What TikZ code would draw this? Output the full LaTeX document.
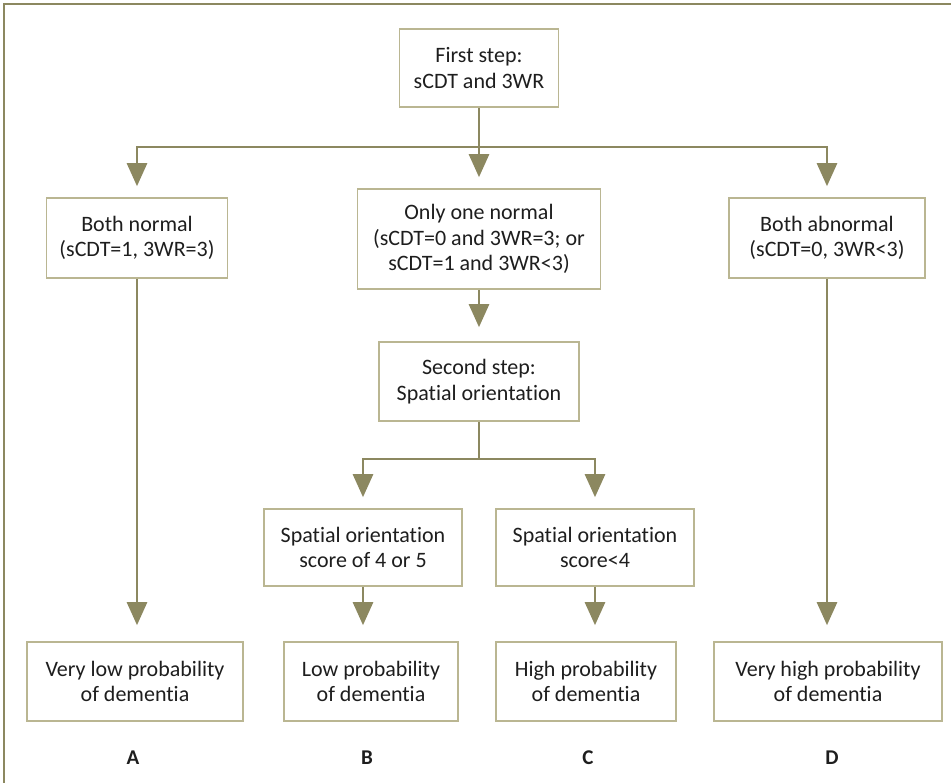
\documentclass[tikz,border=0pt]{standalone}
\usepackage{fontspec}
\setmainfont{Carlito}[Ligatures=NoCommon]
\usetikzlibrary{arrows.meta, positioning}
\definecolor{olivegray}{RGB}{140,136,96}
\definecolor{boxline}{RGB}{186,182,146}
\definecolor{textgray}{RGB}{30,30,30}

\begin{document}
\begin{tikzpicture}[x=1pt, y=-1pt,
  box/.style={draw=boxline, line width=1.6pt, fill=white, align=center, inner sep=0pt, text=textgray, font=\fontsize{22}{25.5}\selectfont},
  conn/.style={draw=olivegray, line width=2.7pt},
  arr/.style={conn, -{Triangle[length=23pt, width=20pt]}, shorten >=11pt},
  tag/.style={text=textgray, font=\fontsize{21}{24}\selectfont\bfseries}]
  \useasboundingbox (0,0) rectangle (951,783);
  \draw[olivegray, line width=2pt] (4,783) -- (4,4) -- (951,4);

  \node[box, minimum width=159pt, minimum height=78pt] (first) at (479,68) {First step:\\ sCDT and 3WR};

  \node[box, minimum width=181pt, minimum height=80pt] (normal) at (137,238) {Both normal\\ (sCDT=1, 3WR=3)};
  \node[box, minimum width=243pt, minimum height=100pt] (onlyone) at (479,239) {Only one normal\\ (sCDT=0 and 3WR=3; or\\ sCDT=1 and 3WR<3)};
  \node[box, minimum width=196pt, minimum height=80pt] (abnormal) at (827,238) {Both abnormal\\ (sCDT=0, 3WR<3)};

  \node[box, minimum width=200pt, minimum height=79pt] (second) at (479,381.5) {Second step:\\ Spatial orientation};

  \node[box, minimum width=198pt, minimum height=77pt] (score45) at (363,547.5) {Spatial orientation\\ score of 4 or 5};
  \node[box, minimum width=198pt, minimum height=77pt] (score4) at (595,547.5) {Spatial orientation\\ score<4};

  \node[box, minimum width=216pt, minimum height=79pt] (verylow) at (135,681.5) {Very low probability\\ of dementia};
  \node[box, minimum width=174pt, minimum height=79pt] (low) at (371,681.5) {Low probability\\ of dementia};
  \node[box, minimum width=180pt, minimum height=79pt] (high) at (586,681.5) {High probability\\ of dementia};
  \node[box, minimum width=228pt, minimum height=79pt] (veryhigh) at (828,681.5) {Very high probability\\ of dementia};

  \node[tag] (tagA) at (133,758) {A};
  \node[tag] (tagB) at (367,758) {B};
  \node[tag] (tagC) at (588,758) {C};
  \node[tag] (tagD) at (832,758) {D};

  % first step splits three ways
  \coordinate (split1) at (479,147);
  \draw[conn] (first.south) -- (split1);
  \draw[arr] (split1) -| (normal.north);
  \draw[arr] (split1) -- (onlyone.north);
  \draw[arr] (split1) -| (abnormal.north);

  \draw[arr, shorten >=14pt] (onlyone.south) -- (second.north);

  % second step splits two ways
  \coordinate (split2) at (479,459);
  \draw[conn] (second.south) -- (split2);
  \draw[arr] (split2) -| (score45.north);
  \draw[arr] (split2) -| (score4.north);

  % down to the outcomes
  \draw[arr, shorten >=16pt] (normal.south) -- (normal.south |- verylow.north);
  \draw[arr, shorten >=16pt] (score45.south) -- (score45.south |- low.north);
  \draw[arr, shorten >=16pt] (score4.south) -- (score4.south |- high.north);
  \draw[arr, shorten >=16pt] (abnormal.south) -- (abnormal.south |- veryhigh.north);
\end{tikzpicture}
\end{document}
